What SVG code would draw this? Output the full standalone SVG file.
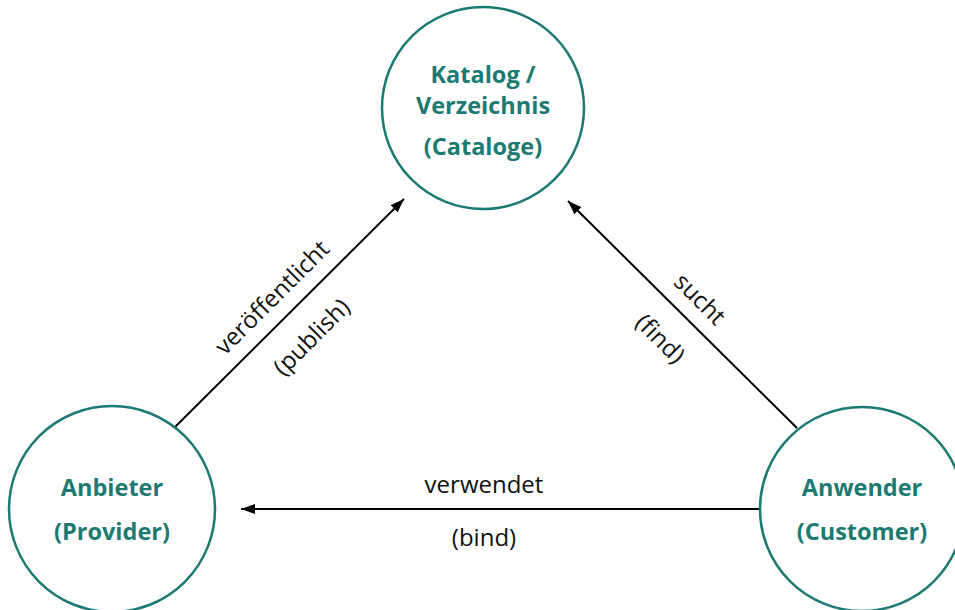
<svg xmlns="http://www.w3.org/2000/svg" width="955" height="610" viewBox="0 0 955 610">
<style>
.node{fill:#ffffff;stroke:#1b7a71;stroke-width:2.5}
.nt{font-family:"Open Sans","Noto Sans",sans-serif;font-weight:bold;font-size:23.5px;fill:#1b7a71;text-anchor:middle}
.edge{stroke:#000000;stroke-width:2;fill:none}
.lbl{font-family:"Open Sans","Noto Sans",sans-serif;font-size:24px;fill:#111111;text-anchor:middle}
</style>
<defs>
<marker id="arr" markerUnits="userSpaceOnUse" markerWidth="15" markerHeight="11" refX="14" refY="5.5" orient="auto">
<path d="M0,0.5 L14,5.5 L0,10.5 z" fill="#000000"/>
</marker>
</defs>
<rect width="955" height="610" fill="#ffffff"/>
<g id="connectors">
<line class="edge" x1="175" y1="427" x2="404" y2="199" marker-end="url(#arr)"/>
<line class="edge" x1="797" y1="428" x2="568" y2="201" marker-end="url(#arr)"/>
<line class="edge" x1="762" y1="509" x2="241" y2="509" marker-end="url(#arr)"/>
<g transform="translate(288.5,314) rotate(-45)">
<text class="lbl" x="0" y="-15">veröffentlicht</text>
<text class="lbl" x="0" y="41">(publish)</text>
</g>
<g transform="translate(683.5,315.5) rotate(45)">
<text class="lbl" x="0" y="-15">sucht</text>
<text class="lbl" x="0" y="41">(find)</text>
</g>
<text class="lbl" x="484" y="493">verwendet</text>
<text class="lbl" x="484" y="546">(bind)</text>
</g>
<g id="catalog">
<circle class="node" cx="483" cy="108" r="101"/>
<text class="nt" x="483" y="83">Katalog /</text>
<text class="nt" x="483" y="114">Verzeichnis</text>
<text class="nt" x="483" y="155">(Cataloge)</text>
</g>
<g id="provider">
<circle class="node" cx="112" cy="509" r="103"/>
<text class="nt" x="112" y="496">Anbieter</text>
<text class="nt" x="112" y="540">(Provider)</text>
</g>
<g id="customer">
<circle class="node" cx="862" cy="509" r="102"/>
<text class="nt" x="862" y="496">Anwender</text>
<text class="nt" x="862" y="540">(Customer)</text>
</g>
</svg>
